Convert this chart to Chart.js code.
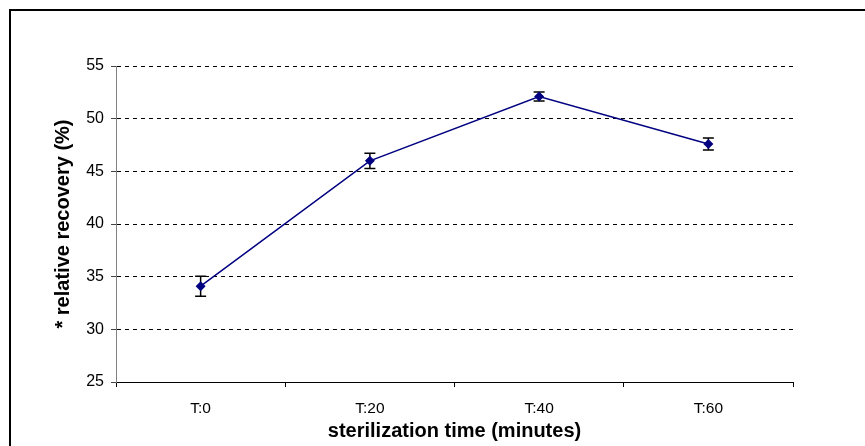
<!DOCTYPE html>
<html>
<head>
<meta charset="utf-8">
<script src="https://cdn.jsdelivr.net/npm/chart.js@4/dist/chart.umd.min.js"></script>
<style>
  body { margin: 0; background: #fff; overflow: hidden; }
  #frame {
    position: absolute; left: 9px; top: 9px; width: 900px; height: 500px;
    border-left: 2px solid #000; border-top: 2px solid #000;
  }
  #chart { position: absolute; left: 0; top: 0; }
</style>
</head>
<body>
<div id="frame"></div>
<canvas id="chart" width="865" height="446"></canvas>
<script>
// Data
var categories = ["T:0", "T:20", "T:40", "T:60"];
var recovery = [34.1, 46.0, 52.1, 47.6];
var errors = [0.95, 0.72, 0.42, 0.57];

// Error bars, drawn under the markers
var errorBars = {
  id: "errorBars",
  beforeDatasetsDraw: function (chart) {
    var ctx = chart.ctx;
    var meta = chart.getDatasetMeta(0);
    var y = chart.scales.y;
    ctx.save();
    ctx.strokeStyle = "#000";
    ctx.lineWidth = 1.5;
    meta.data.forEach(function (pt, i) {
      var top = y.getPixelForValue(recovery[i] + errors[i]);
      var bot = y.getPixelForValue(recovery[i] - errors[i]);
      ctx.beginPath();
      ctx.moveTo(pt.x, top); ctx.lineTo(pt.x, bot);
      ctx.moveTo(pt.x - 5.5, top); ctx.lineTo(pt.x + 5.5, top);
      ctx.moveTo(pt.x - 5.5, bot); ctx.lineTo(pt.x + 5.5, bot);
      ctx.stroke();
    });
    ctx.restore();
  }
};

Chart.defaults.font.family = "'Liberation Sans', Arial, sans-serif";
Chart.defaults.color = "#000";

var chart = new Chart(document.getElementById("chart").getContext("2d"), {
  type: "line",
  data: {
    labels: categories,
    datasets: [{
      data: recovery,
      borderColor: "#000080",
      borderWidth: 1.5,
      backgroundColor: "#000080",
      pointStyle: "rectRot",
      pointRadius: 5,
      pointBorderWidth: 0,
      tension: 0
    }]
  },
  options: {
    responsive: false,
    animation: false,
    layout: { padding: { left: 0, top: 66, right: 72, bottom: 0 } },
    plugins: { legend: { display: false }, tooltip: { enabled: false } },
    scales: {
      x: {
        offset: true,
        grid: { offset: true, drawOnChartArea: false, tickLength: 5, color: "#000" },
        border: { color: "#000", width: 1 },
        ticks: { font: { size: 15.5 }, padding: 12 },
        title: {
          display: true,
          text: "sterilization time (minutes)",
          font: { size: 20, weight: "bold" },
          padding: { top: 0, bottom: 3 }
        },
        afterFit: function (scale) { scale.height = 64; }
      },
      y: {
        min: 25,
        max: 55,
        ticks: { stepSize: 5, font: { size: 16 }, padding: 7 },
        grid: { color: "#000", lineWidth: 1, tickLength: 5, tickColor: "#444" },
        border: { color: "#808080", width: 1, dash: [4, 4] },
        title: {
          display: true,
          text: "* relative recovery (%)",
          font: { size: 20, weight: "bold" },
          padding: { top: 51, bottom: 0 }
        },
        afterFit: function (scale) { scale.width = 116; }
      }
    }
  },
  plugins: [errorBars]
});
</script>
</body>
</html>
